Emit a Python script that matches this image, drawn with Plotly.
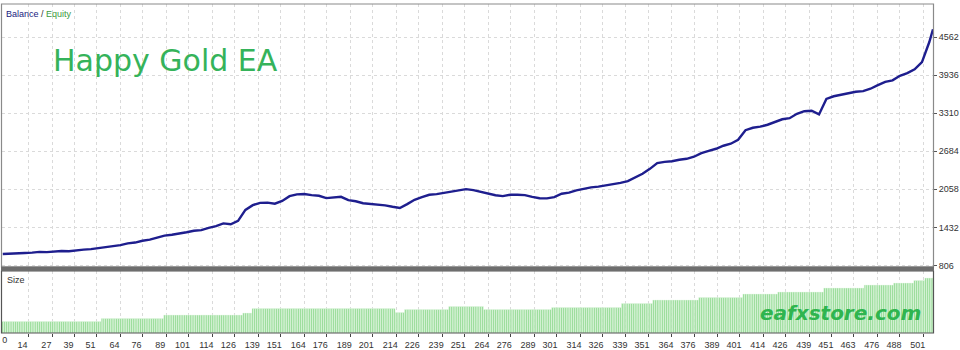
import plotly.graph_objects as go

# ---------------- data ----------------
trade_index = list(range(0, 505, 4)) + [506]
balance = [
    995, 1004, 1001, 1012, 1018, 1030, 1026, 1040, 1045, 1041,
    1058, 1066, 1075, 1092, 1099, 1124, 1140, 1170, 1183, 1212,
    1230, 1265, 1296, 1312, 1338, 1352, 1376, 1388, 1425, 1452,
    1498, 1484, 1540, 1720, 1798, 1836, 1840, 1822, 1868, 1946,
    1975, 1980, 1962, 1952, 1914, 1920, 1935, 1880, 1862, 1830,
    1820, 1798, 1795, 1772, 1752, 1815, 1886, 1928, 1968, 1980,
    2000, 2020, 2050, 2062, 2045, 2016, 1978, 1960, 1946, 1968,
    1970, 1962, 1935, 1912, 1910, 1930, 1985, 2004, 2042, 2070,
    2090, 2102, 2124, 2135, 2165, 2192, 2248, 2315, 2395, 2488,
    2510, 2520, 2545, 2560, 2594, 2652, 2690, 2725, 2775, 2808,
    2872, 3030, 3070, 3088, 3120, 3160, 3210, 3228, 3300, 3342,
    3350, 3290, 3545, 3588, 3612, 3638, 3662, 3672, 3712, 3770,
    3826, 3850, 3925, 3968, 4030, 4150, 4480, 4690,
]

# lot size per trade, stored as run lengths (number of trades, lot)
size_run_lengths = [54, 34, 43, 5, 78, 5, 24, 19, 37, 38, 17, 25, 24, 19, 25, 22, 16, 11, 6, 5]
size_lots = [0.115, 0.145, 0.18, 0.20, 0.245, 0.205, 0.235, 0.265, 0.235, 0.255,
             0.295, 0.33, 0.355, 0.39, 0.41, 0.45, 0.48, 0.50, 0.525, 0.55]

x_tick_labels = [0, 14, 27, 39, 51, 64, 76, 89, 101, 114, 126, 139, 151, 164, 176,
                 189, 201, 214, 226, 239, 251, 264, 276, 289, 301, 314, 326, 339,
                 351, 364, 376, 389, 401, 414, 426, 439, 451, 463, 476, 488, 501]
y_tick_labels = [806, 1432, 2058, 2684, 3310, 3936, 4562]

# expand the run-length table for the bar trace
size_values = []
for n, lot in zip(size_run_lengths, size_lots):
    size_values += [lot] * n
size_index = list(range(len(size_values)))

# ---------------- geometry helpers ----------------
W, H = 960, 350
def px(x):
    return x / W
def py(y):
    return 1 - y / H

X0, X1 = 2, 933
MAIN_TOP, MAIN_BOT = 4, 267
LOW_TOP, LOW_BOT = 271, 333
X_RANGE = [-0.4, 506]
FONT_SMALL = "Liberation Sans, Arial, sans-serif"
TICKFONT = dict(family=FONT_SMALL, size=9, color="#333")

fig = go.Figure()

fig.add_trace(go.Bar(
    x=size_index, y=size_values, xaxis="x2", yaxis="y2",
    marker=dict(color="#86d686", line=dict(width=0.5, color="#e8f8e8")),
    hoverinfo="skip", showlegend=False,
))

# invisible anchor trace so the overlaying axis for the first label is drawn
fig.add_trace(go.Scatter(
    x=size_index[:1], y=size_values[:1], xaxis="x3", yaxis="y2", mode="markers",
    marker=dict(opacity=0), hoverinfo="skip", showlegend=False,
))

fig.add_trace(go.Scatter(
    x=trade_index, y=balance, xaxis="x", yaxis="y", mode="lines",
    line=dict(color="#1e1e8e", width=2.4), showlegend=False,
))

grid = dict(showgrid=True, gridcolor="#dadada", griddash="dot", gridwidth=1,
            automargin=False)

fig.update_layout(
    width=W, height=H,
    margin=dict(l=0, r=0, t=0, b=0),
    paper_bgcolor="white", plot_bgcolor="white",
    bargap=0.2,
    xaxis=dict(domain=[px(X0), px(X1)], range=X_RANGE, anchor="y",
               tickvals=x_tick_labels, showticklabels=False, ticks="",
               zeroline=False, showline=False, **grid),
    yaxis=dict(domain=[py(MAIN_BOT), py(MAIN_TOP)], range=[781, 5105], anchor="x",
               side="right", tickvals=y_tick_labels,
               ticks="outside", ticklen=3, tickcolor="#555", tickfont=TICKFONT,
               zeroline=False, showline=False, **grid),
    # labels sit just left of their tick, as in the reference
    xaxis2=dict(domain=[px(X0), px(X1)], range=X_RANGE, anchor="y2",
                tickvals=x_tick_labels[1:], ticktext=[str(v) for v in x_tick_labels[1:]],
                ticks="outside", ticklen=3, tickcolor="#444", tickangle=0,
                ticklabelshift=-6, tickfont=TICKFONT,
                zeroline=False, showline=False, **grid),
    # the first label is kept inside the chart edge
    xaxis3=dict(domain=[px(X0), px(X1)], range=X_RANGE, anchor="y2", overlaying="x2",
                side="bottom", tickmode="array",
                tickvals=x_tick_labels[:1], ticktext=[str(v) for v in x_tick_labels[:1]],
                ticks="", tickangle=0, ticklabelshift=2, ticklabeloverflow="allow",
                tickfont=TICKFONT,
                showgrid=False, zeroline=False, showline=False, automargin=False),
    yaxis2=dict(domain=[py(LOW_BOT), py(LOW_TOP)], range=[0, 0.62], anchor="x2",
                showgrid=False, showticklabels=False, ticks="", zeroline=False,
                automargin=False),
    shapes=[
        dict(type="rect", xref="paper", yref="paper",
             x0=px(X0 - 0.5), x1=px(X1 + 0.5), y0=py(MAIN_BOT), y1=py(MAIN_TOP),
             line=dict(color="#8a8a8a", width=1.2), fillcolor="rgba(0,0,0,0)"),
        dict(type="rect", xref="paper", yref="paper",
             x0=px(X0 - 0.5), x1=px(X1 + 0.5), y0=py(LOW_BOT), y1=py(LOW_TOP),
             line=dict(color="#555555", width=1.2), fillcolor="rgba(0,0,0,0)"),
        dict(type="rect", xref="paper", yref="paper",
             x0=px(X0 - 1), x1=px(X1 + 1), y0=py(271), y1=py(266.5),
             line=dict(width=0), fillcolor="#6e6e6e"),
    ],
    annotations=[
        dict(xref="paper", yref="paper", x=px(4), y=py(14), xanchor="left", yanchor="middle",
             showarrow=False,
             text="<span style='color:#1a1a80'>Balance</span>"
                  "<span style='color:#333'> / </span>"
                  "<span style='color:#3d9a3d'>Equity</span>",
             font=dict(family=FONT_SMALL, size=9)),
        dict(xref="paper", yref="paper", x=px(5), y=py(280), xanchor="left", yanchor="middle",
             showarrow=False, text="Size",
             font=dict(family=FONT_SMALL, size=9, color="#333")),
        dict(xref="paper", yref="paper", x=px(165), y=py(60), xanchor="center", yanchor="middle",
             showarrow=False, text="Happy Gold EA",
             font=dict(family="DejaVu Sans", size=30, color="#35b35a")),
        dict(xref="paper", yref="paper", x=px(840), y=py(313), xanchor="center", yanchor="middle",
             showarrow=False, text="<b><i>eafxstore.com</i></b>",
             font=dict(family="DejaVu Sans", size=20, color="#2fb54f")),
    ],
)

fig.write_html("out.html")
